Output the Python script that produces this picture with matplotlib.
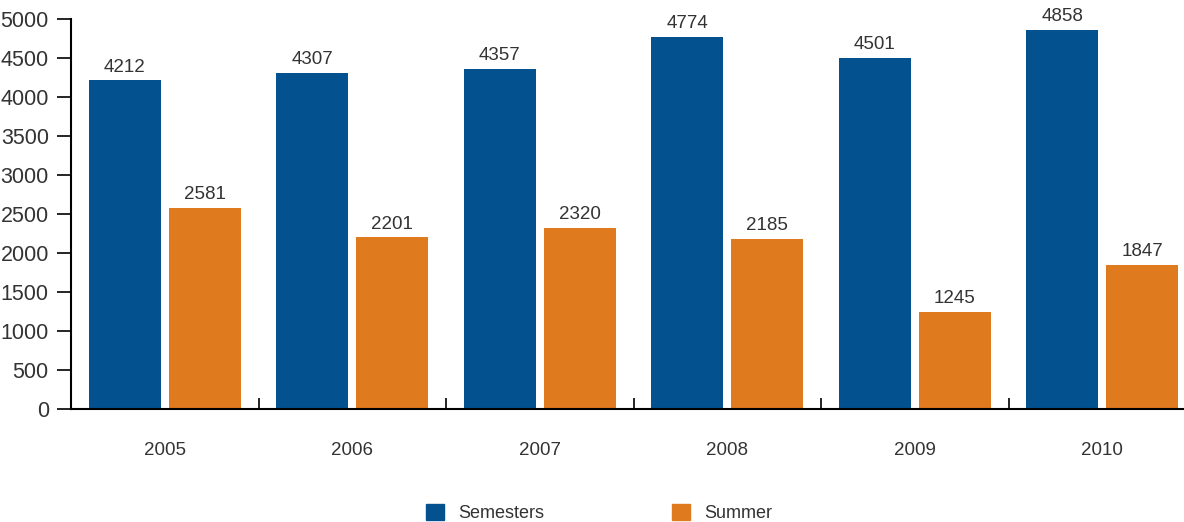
import matplotlib
matplotlib.use("Agg")
import matplotlib.pyplot as plt
import numpy as np
from matplotlib.patches import Patch

# data
years = ["2005", "2006", "2007", "2008", "2009", "2010"]
semesters = [4212, 4307, 4357, 4774, 4501, 4858]
summer = [2581, 2201, 2320, 2185, 1245, 1847]

blue = "#03528f"
orange = "#e07a1f"
text_col = "#333333"

plt.rcParams["font.family"] = ["Liberation Sans", "DejaVu Sans"]

fig = plt.figure(figsize=(11.84, 5.22), dpi=100)
ax = fig.add_axes([71 / 1184, 1 - 409 / 522, 1125 / 1184, (409 - 19) / 522])

x = np.arange(len(years))
w = 0.384
off = 0.213
b1 = ax.bar(x - off, semesters, w, color=blue)
b2 = ax.bar(x + off, summer, w, color=orange)

# value labels above each bar
for bars in (b1, b2):
    for rect in bars:
        h = rect.get_height()
        ax.text(rect.get_x() + rect.get_width() / 2, h + 60, f"{int(h)}",
                ha="center", va="bottom", fontsize=13.5, color=text_col)

ax.set_xlim(-0.5, len(years) - 0.5)
ax.set_ylim(0, 5000)
ax.set_yticks(range(0, 5001, 500))
ax.tick_params(axis="y", direction="out", length=10, width=1.2,
               labelsize=15.5, colors="black", labelcolor=text_col, pad=6)

# category labels sit between the boundary ticks
ax.set_xticks(x)
ax.set_xticklabels(years)
ax.tick_params(axis="x", which="major", length=0, labelsize=13.5,
               labelcolor=text_col, pad=24)
ax.set_xticks(np.arange(0.5, len(years) - 0.5, 1), minor=True)
ax.tick_params(axis="x", which="minor", direction="in", length=8, width=1.2)

for s in ("top", "right"):
    ax.spines[s].set_visible(False)
ax.spines["left"].set_linewidth(1.5)
ax.spines["bottom"].set_linewidth(1.5)

handles = [Patch(color=blue, label="Semesters"), Patch(color=orange, label="Summer")]
leg = fig.legend(handles=handles, loc="lower center", bbox_to_anchor=(0.506, -0.032),
                 ncol=2, frameon=False, fontsize=13, handlelength=1.0,
                 handleheight=1.0, columnspacing=7.1, handletextpad=0.8)
for t in leg.get_texts():
    t.set_color(text_col)

fig.savefig("out.png", dpi=100)
